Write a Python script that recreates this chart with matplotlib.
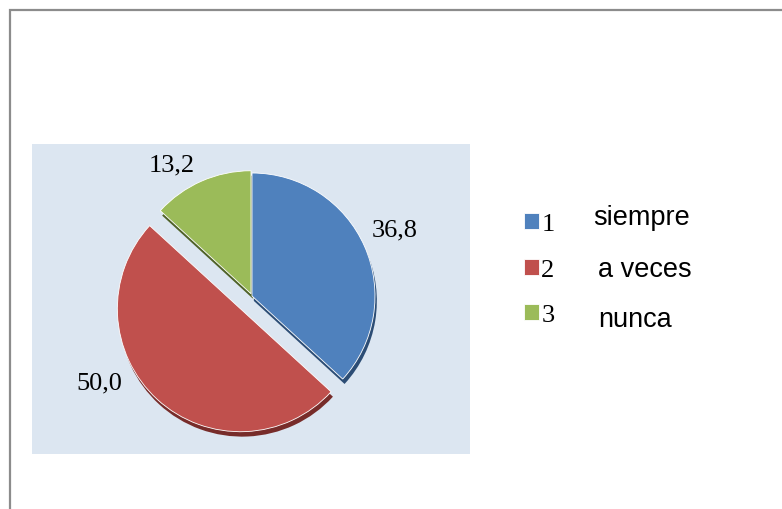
import matplotlib.pyplot as plt
from matplotlib.patches import Rectangle

# datos
categorias = ["1", "2", "3"]
respuestas = ["siempre", "a veces", "nunca"]
porcentajes = [36.8, 50.0, 13.2]

colores = ["#4f81bd", "#c0504d", "#9bbb59"]
sombras = ["#2c4d75", "#772c2a", "#4f6228"]
separar = [0.0, 0.14, 0.02]

W, H = 782, 510
fig = plt.figure(figsize=(W / 100, H / 100), dpi=100)
fig.patch.set_facecolor("white")

# marco gris del documento
fig.patches.append(Rectangle((10 / W, -0.1), 1.2, 1 - 11 / H + 0.1,
                             transform=fig.transFigure, fill=False,
                             edgecolor="#8c8c8c", linewidth=1.6))

# area del grafico (fondo azul claro)
ax = fig.add_axes([32 / W, (H - 455) / H, 438 / W, 310 / H])

# sombra "3D" debajo de cada sector
ax.pie(porcentajes, colors=sombras, startangle=90, counterclock=False,
       explode=separar, center=(0.015, -0.04),
       wedgeprops=dict(edgecolor="none"))
wedges, textos = ax.pie(porcentajes, colors=colores, startangle=90,
                        counterclock=False, explode=separar,
                        labels=[f"{v:.1f}".replace(".", ",") for v in porcentajes],
                        labeldistance=1.28,
                        wedgeprops=dict(edgecolor="white", linewidth=0.6),
                        textprops=dict(family="Liberation Serif", fontsize=19))

# posiciones de las etiquetas como en el original
pos_etiquetas = [(1.16, 0.545), (-1.24, -0.70), (-0.65, 1.07)]
for t, p in zip(textos, pos_etiquetas):
    t.set_position(p)
    t.set_ha("center")
    t.set_va("center")

ax.set_axis_on()
ax.set_frame_on(True)
ax.patch.set_visible(True)
ax.set_facecolor("#dce6f1")
ax.set_aspect("auto")
r = 123
ax.set_xlim((32 - 252) / r, (470 - 252) / r)
ax.set_ylim(-(455 - 297) / r, (297 - 145) / r)
ax.set_xticks([])
ax.set_yticks([])
for s in ax.spines.values():
    s.set_visible(False)

# leyenda
leg = fig.legend(wedges, categorias, loc="upper left",
                 bbox_to_anchor=(503 / W, 1 - 193 / H),
                 frameon=False, prop=dict(family="Liberation Serif", size=19),
                 handlelength=0.55, handleheight=0.55, handletextpad=0.1,
                 labelspacing=0.88, borderpad=0.3)

pos_palabras = [(593, 218), (598, 270), (598, 320)]
for palabra, (x, y) in zip(respuestas, pos_palabras):
    fig.text(x / W, 1 - y / H, palabra, family="Liberation Sans",
             fontsize=19.5, ha="left", va="center")

fig.savefig("out.png", dpi=100)
